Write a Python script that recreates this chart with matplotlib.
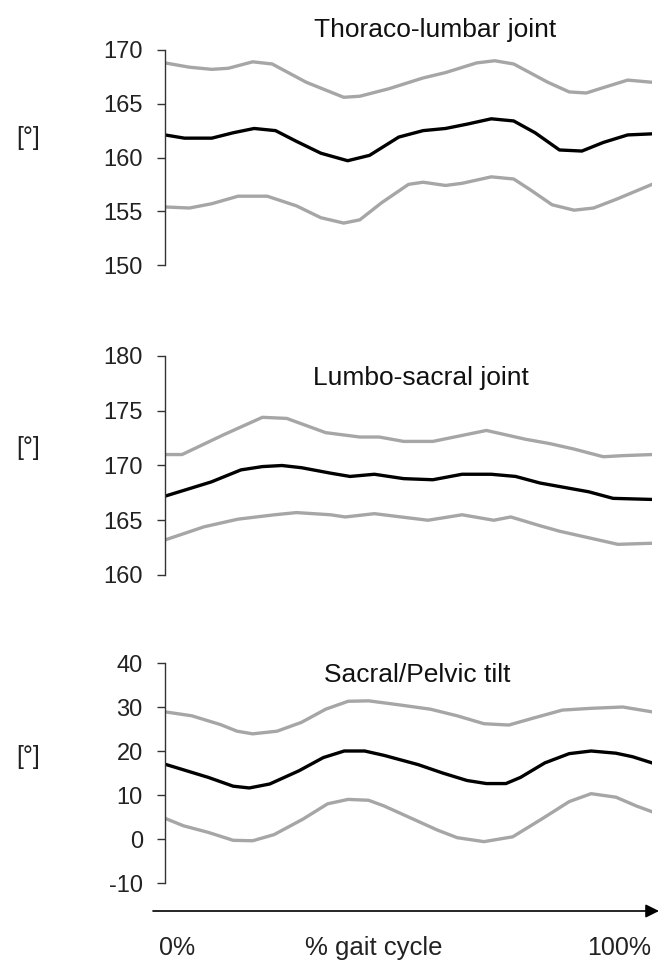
import numpy as np
import matplotlib
matplotlib.use('Agg')
from matplotlib import pyplot as plt
from matplotlib.patches import FancyArrowPatch

plt.rcParams['font.family'] = ['Liberation Sans', 'DejaVu Sans']
plt.rcParams['axes.unicode_minus'] = False

# Thoraco-lumbar joint (x in % gait cycle)
tl_mean_x = [0, 4, 9.6, 14, 18.3, 22.7, 27, 32, 37.5, 42, 48, 53, 57.6, 62, 67, 71.6, 76, 81, 85.6, 90, 95, 100]
tl_mean_y = [162.1, 161.8, 161.8, 162.3, 162.7, 162.5, 161.5, 160.4, 159.7, 160.2, 161.9, 162.5, 162.7, 163.1, 163.6, 163.4, 162.3, 160.7, 160.6, 161.4, 162.1, 162.2]
tl_up_x = [0, 5, 9.6, 13, 18, 22, 29, 36.7, 40, 46, 53, 57.6, 64, 67.7, 71.6, 78.6, 83, 86.5, 90, 95, 100]
tl_up_y = [168.8, 168.4, 168.2, 168.3, 168.9, 168.7, 167.0, 165.6, 165.7, 166.4, 167.4, 167.9, 168.8, 169.0, 168.7, 167.0, 166.1, 166.0, 166.5, 167.2, 167.0]
tl_lo_x = [0, 5, 9.6, 15, 21, 27, 32, 36.7, 40, 44.5, 50, 53, 57.6, 61, 67, 71.6, 75, 79.5, 84, 88, 92.6, 100]
tl_lo_y = [155.4, 155.3, 155.7, 156.4, 156.4, 155.5, 154.4, 153.9, 154.2, 155.8, 157.5, 157.7, 157.4, 157.6, 158.2, 158.0, 157.0, 155.6, 155.1, 155.3, 156.1, 157.5]

# Lumbo-sacral joint
ls_mean_x = [0, 9.5, 15.6, 20, 24, 28, 34, 38, 43, 49, 55, 61, 67, 72, 77, 82, 87, 92, 100]
ls_mean_y = [167.2, 168.5, 169.6, 169.9, 170.0, 169.8, 169.3, 169.0, 169.2, 168.8, 168.7, 169.2, 169.2, 169.0, 168.4, 168.0, 167.6, 167.0, 166.9]
ls_up_x = [0, 3.5, 12, 20, 25, 33, 40, 44, 49, 55, 66, 74, 79, 84, 90, 94, 100]
ls_up_y = [171.0, 171.0, 172.8, 174.4, 174.3, 173.0, 172.6, 172.6, 172.2, 172.2, 173.2, 172.4, 172.0, 171.5, 170.8, 170.9, 171.0]
ls_lo_x = [0, 8, 15, 22.5, 27, 34, 37, 43, 54, 61, 67.5, 71, 77, 81, 87, 93, 100]
ls_lo_y = [163.2, 164.4, 165.1, 165.5, 165.7, 165.5, 165.3, 165.6, 165.0, 165.5, 165.0, 165.3, 164.5, 164.0, 163.4, 162.8, 162.9]

# Sacral/Pelvic tilt
sp_mean_x = [0, 8.9, 14, 17.3, 21.5, 27.5, 32.5, 36.8, 41, 45, 52, 57, 62, 66, 70, 73, 78, 83, 87.5, 92.6, 96, 100]
sp_mean_y = [17.0, 14.0, 12.0, 11.6, 12.5, 15.5, 18.5, 20.0, 20.0, 19.0, 16.9, 15.0, 13.3, 12.6, 12.6, 14.0, 17.3, 19.4, 20.0, 19.5, 18.7, 17.3]
sp_up_x = [0, 5.5, 11.4, 14.8, 18, 23, 28, 33, 37.6, 41.8, 48, 54.5, 60, 65.5, 70.6, 75.7, 81.6, 87.5, 94, 100]
sp_up_y = [28.9, 28.0, 26.0, 24.5, 23.9, 24.5, 26.5, 29.5, 31.3, 31.4, 30.5, 29.5, 28.0, 26.2, 25.9, 27.5, 29.3, 29.7, 30.0, 28.9]
sp_lo_x = [0, 3.8, 8.9, 14, 18, 22.4, 28.3, 33.4, 37.6, 41.8, 45, 50, 56, 60, 65.5, 71.4, 77.3, 83, 87.5, 92.6, 96.8, 100]
sp_lo_y = [4.7, 3.0, 1.5, -0.3, -0.4, 1.0, 4.5, 8.0, 9.0, 8.8, 7.5, 5.0, 2.0, 0.3, -0.6, 0.5, 4.5, 8.5, 10.3, 9.5, 7.5, 6.2]

panels = [
    ('Thoraco-lumbar joint', (150, 170), [150, 155, 160, 165, 170],
     (tl_up_x, tl_up_y), (tl_mean_x, tl_mean_y), (tl_lo_x, tl_lo_y)),
    ('Lumbo-sacral joint', (160, 180), [160, 165, 170, 175, 180],
     (ls_up_x, ls_up_y), (ls_mean_x, ls_mean_y), (ls_lo_x, ls_lo_y)),
    ('Sacral/Pelvic tilt', (-10, 40), [-10, 0, 10, 20, 30, 40],
     (sp_up_x, sp_up_y), (sp_mean_x, sp_mean_y), (sp_lo_x, sp_lo_y)),
]

W, H = 659, 965
fig = plt.figure(figsize=(W / 100, H / 100), dpi=100)

def fx(px):
    return px / W

def fy(py):
    return 1 - py / H

# axes pixel boxes: (top, bottom) of the y range
boxes = [(50, 265), (356, 575), (663, 883)]
title_pos = [(435, 37), (421, 385), (417, 682)]   # centre x, baseline y
unit_y = [138, 448, 757]
left, right = 165, 652
gray = '#a6a6a6'

for (name, ylim, yticks, up, mean, lo), (top, bot), (tx, ty), uy in zip(panels, boxes, title_pos, unit_y):
    ax = fig.add_axes([fx(left), fy(bot), fx(right - left), (bot - top) / H])
    ax.plot(up[0], up[1], color=gray, lw=2.4, solid_joinstyle='round')
    ax.plot(lo[0], lo[1], color=gray, lw=2.4, solid_joinstyle='round')
    ax.plot(mean[0], mean[1], color='black', lw=2.4, solid_joinstyle='round')
    ax.set_xlim(0, 100)
    ax.set_ylim(*ylim)
    ax.set_yticks(yticks)
    ax.set_xticks([])
    for s in ['top', 'right', 'bottom']:
        ax.spines[s].set_visible(False)
    ax.spines['left'].set_color('#333333')
    ax.spines['left'].set_linewidth(1.0)
    ax.tick_params(axis='y', direction='out', length=6, width=1.0, color='#333333',
                   labelsize=17, pad=10, labelcolor='#222222')
    ax.patch.set_alpha(0)
    fig.text(fx(tx), fy(ty), name, ha='center', va='baseline', fontsize=19, color='#111111')
    fig.text(fx(28), fy(uy), '[°]', ha='center', va='center', fontsize=18, color='#222222')

# x-axis arrow
fig.add_artist(FancyArrowPatch(
    (fx(153), fy(911)), (fx(659), fy(911)), transform=fig.transFigure,
    arrowstyle='-|>,head_length=8,head_width=4', color='black', lw=1.2,
    shrinkA=0, shrinkB=0))

fig.text(fx(177), fy(955), '0%', ha='center', va='baseline', fontsize=18, color='#222222')
fig.text(fx(374), fy(955), '% gait cycle', ha='center', va='baseline', fontsize=18.5, color='#222222')
fig.text(fx(619), fy(955), '100%', ha='center', va='baseline', fontsize=18, color='#222222')

fig.savefig('out.png', dpi=100)
